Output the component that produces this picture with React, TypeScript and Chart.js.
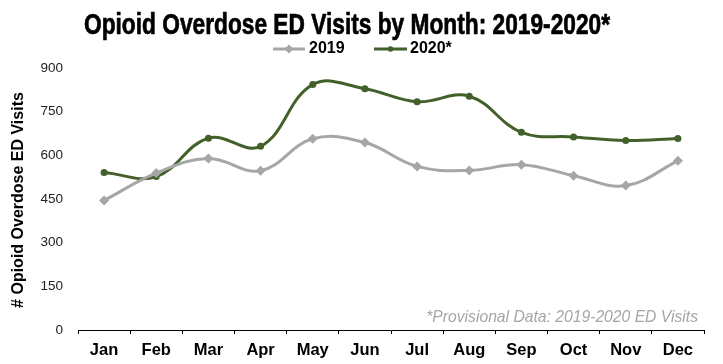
import React, { useEffect, useRef } from "react";
import { Chart, registerables } from "chart.js";

Chart.register(...registerables);

const months = ["Jan", "Feb", "Mar", "Apr", "May", "Jun", "Jul", "Aug", "Sep", "Oct", "Nov", "Dec"];
const visits2019 = [445, 539, 589, 547, 657, 644, 562, 548, 568, 530, 496, 581];
const visits2020 = [541, 527, 659, 631, 843, 829, 784, 803, 679, 663, 651, 658];
const seriesNames = ["2019", "2020*"];
const yMin = 0;
const yMax = 900;
const yStep = 150;

const titleText = "Opioid Overdose ED Visits by Month: 2019-2020*";
const yTitleText = "# Opioid Overdose ED Visits";
const noteText = "*Provisional Data: 2019-2020 ED Visits";

const GRAY = "#a6a6a6";
const GREEN = "#43602a";

const decorPlugin = {
  id: "decor",
  afterDraw(chart: any) {
    const ctx = chart.ctx as CanvasRenderingContext2D;
    ctx.save();
    // Title
    ctx.fillStyle = "#000";
    ctx.strokeStyle = "#000";
    ctx.lineWidth = 0.7;
    ctx.font = 'bold 29px "Liberation Sans Narrow", "Liberation Sans", Arial';
    ctx.textBaseline = "alphabetic";
    ctx.textAlign = "left";
    ctx.fillText(titleText, 84, 34, 526);
    ctx.strokeText(titleText, 84, 34, 526);

    // Legend
    const ly = 49;
    const drawItem = (x1: number, x2: number, color: string, style: string, label: string, tx: number) => {
      ctx.strokeStyle = color;
      ctx.lineWidth = 3;
      ctx.beginPath();
      ctx.moveTo(x1, ly);
      ctx.lineTo(x2, ly);
      ctx.stroke();
      const cx = (x1 + x2) / 2;
      ctx.fillStyle = color;
      ctx.beginPath();
      if (style === "diamond") {
        ctx.moveTo(cx, ly - 4.5);
        ctx.lineTo(cx + 4.5, ly);
        ctx.lineTo(cx, ly + 4.5);
        ctx.lineTo(cx - 4.5, ly);
        ctx.closePath();
      } else {
        ctx.arc(cx, ly, 2.8, 0, Math.PI * 2);
      }
      ctx.fill();
      ctx.fillStyle = "#000";
      ctx.font = 'bold 16px "Liberation Sans", Arial';
      ctx.textBaseline = "middle";
      ctx.textAlign = "left";
      ctx.fillText(label, tx, ly);
    };
    drawItem(273, 305, GRAY, "diamond", seriesNames[0], 309);
    drawItem(374, 407, GREEN, "circle", seriesNames[1], 410);

    // Y title
    ctx.save();
    ctx.translate(19, 200);
    ctx.rotate(-Math.PI / 2);
    ctx.fillStyle = "#000";
    ctx.font = 'bold 16px "Liberation Sans", Arial';
    ctx.textAlign = "center";
    ctx.textBaseline = "middle";
    ctx.fillText(yTitleText, 0, 0);
    ctx.restore();

    // Note
    ctx.fillStyle = GRAY;
    ctx.font = 'italic 15.7px "Liberation Sans", Arial';
    ctx.textAlign = "right";
    ctx.textBaseline = "alphabetic";
    ctx.fillText(noteText, 698, 322);
    ctx.restore();
  },
};

export default function App() {
  const ref = useRef<HTMLCanvasElement | null>(null);
  useEffect(() => {
    if (!ref.current) return;
    const chart = new Chart(ref.current, {
      type: "line",
      data: {
        labels: months,
        datasets: [
          {
            label: seriesNames[0],
            data: visits2019,
            borderColor: GRAY,
            backgroundColor: GRAY,
            borderWidth: 3,
            tension: 0.4,
            pointStyle: "rectRot",
            pointRadius: 5,
            pointBorderWidth: 0,
          },
          {
            label: seriesNames[1],
            data: visits2020,
            borderColor: GREEN,
            backgroundColor: GREEN,
            borderWidth: 3,
            tension: 0.4,
            pointStyle: "circle",
            pointRadius: 3.5,
            pointBorderWidth: 0,
          },
        ],
      },
      options: {
        responsive: false,
        animation: false,
        layout: { padding: { top: 68, left: 0, right: 19, bottom: 0 } },
        plugins: {
          legend: { display: false },
          title: { display: false },
          tooltip: { enabled: false },
        },
        scales: {
          x: {
            offset: true,
            grid: {
              display: true,
              drawOnChartArea: false,
              drawTicks: true,
              tickLength: 4,
              color: "#000",
              offset: true,
            },
            border: { display: true, color: "#000", width: 1 },
            ticks: {
              color: "#000",
              font: { family: '"Liberation Sans", Arial', size: 16.5, weight: "bold" },
              padding: 7,
            },
            afterFit: (s: any) => {
              s.height = 34;
            },
          },
          y: {
            min: yMin,
            max: yMax,
            grid: { display: false },
            border: { display: false },
            ticks: {
              stepSize: yStep,
              color: "#222",
              font: { family: '"Liberation Sans", Arial', size: 13.5 },
              padding: 7,
            },
            afterFit: (s: any) => {
              s.width = 78;
            },
          },
        },
      },
      plugins: [decorPlugin],
    } as any);
    return () => chart.destroy();
  }, []);
  return (
    <div style={{ position: "absolute", left: 0, top: 0, width: 723, height: 364, background: "#fff" }}>
      <canvas ref={ref} width={723} height={364} />
    </div>
  );
}
